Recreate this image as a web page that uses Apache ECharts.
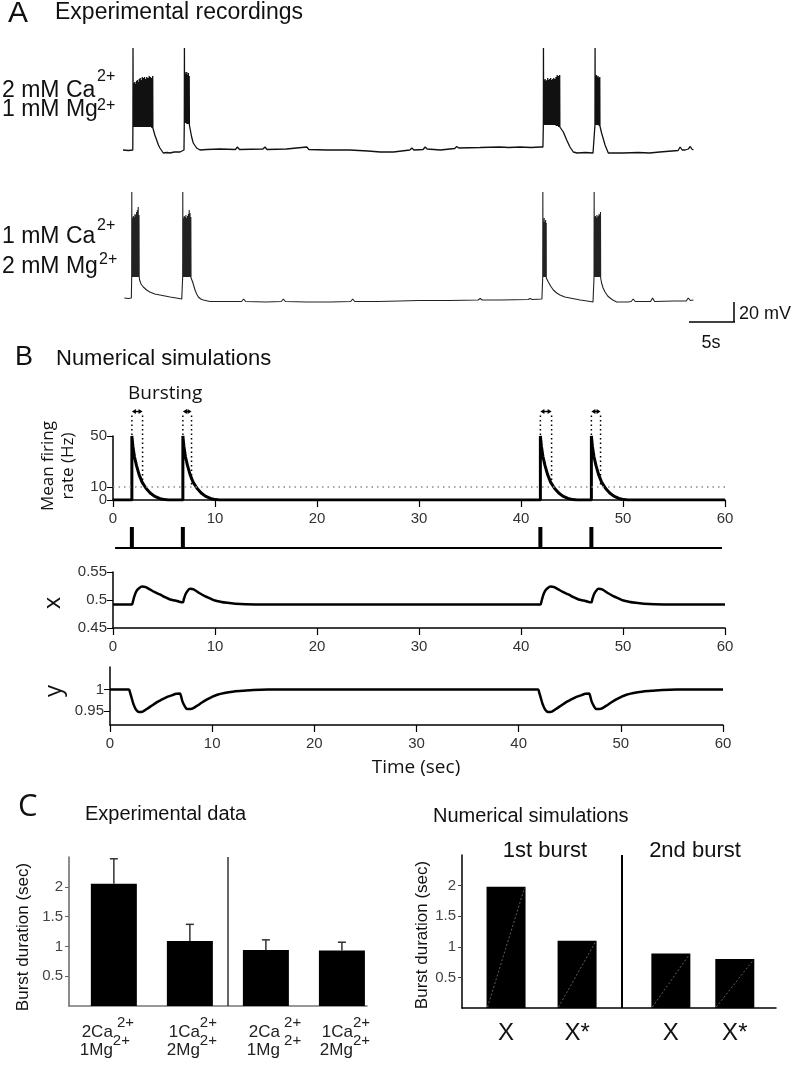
<!DOCTYPE html>
<html><head><meta charset="utf-8">
<script src="https://cdn.jsdelivr.net/npm/echarts@6/dist/echarts.min.js"></script>
<style>html,body{margin:0;padding:0;background:#fff}#c{width:796px;height:1065px}</style>
</head><body><div id="c"></div>
<script>
// ===== Panel A: experimental recordings (time in s, potential in mV) =====
// slow part of each trace [t, mV]
const recTopSlow = [[0.98,-70],[1.5,-70.5],[1.94,-70],[3.92,-48],[3.95,-50],[4.1,-55],[4.28,-60],[4.45,-65],[4.6,-68],[4.93,-73],[5.3,-72.5],[5.59,-73],[6.0,-72],[6.57,-72],[6.96,-70],
  [7.52,-45],[7.55,-47],[7.71,-57],[7.87,-63],[8.2,-68],[8.53,-70],[9.2,-69.5],[10.5,-69],[12.0,-69.5],[12.2,-67],[12.4,-69.5],[14.7,-69],[14.9,-67],[15.1,-69.5],[17,-69],[19.0,-67],[19.2,-69.5],[21,-70],[23.2,-70],[25,-71],[26.2,-72],[27.5,-72],[29.1,-70],[29.3,-68],[29.5,-70],[30.4,-69.5],[30.6,-67],[30.8,-69],[32.1,-70],[33.5,-68.5],[33.7,-66.5],[33.9,-68],[36,-67.5],[37.9,-67],[38.8,-67.5],[39.9,-67],[41.0,-67.5],[41.9,-67],[42.15,-67],
  [43.82,-47],[43.95,-49],[44.15,-52],[44.48,-60],[44.8,-67],[45.13,-72],[45.5,-73],[46.3,-72.5],[47.06,-73],[47.2,-72],
  [47.75,-46],[47.9,-53],[48.24,-65],[48.56,-73],[50,-73],[51.5,-72.5],[52.6,-73],[53.6,-72],[54.8,-71],[55.4,-70.5],[55.6,-67],[55.8,-70],[56.1,-70],[56.4,-69],[56.6,-66.5],[56.75,-69],[56.9,-70]];
// spikes [t, peak mV, trough mV]
const recTopSpikes = [[1.95,32,-47],[2.05,-3,-47],[2.13,-2,-47],[2.21,-4,-47],[2.3,-1,-47],[2.38,0,-47],[2.47,-2,-47],[2.56,1,-47],[2.66,2,-47],[2.76,0,-47],[2.86,3,-47],[2.97,2,-47],[3.08,3,-47],[3.19,1,-47],[3.3,3,-47],[3.42,2,-47],[3.54,4,-47],[3.66,3,-47],[3.78,2,-48],[3.88,4,-48],
  [6.99,32,-43],[7.06,8,-43],[7.14,6,-43],[7.22,8,-44],[7.30,5,-44],[7.38,7,-44],[7.46,4,-45],
  [42.19,32,-45],[42.27,0,-45],[42.35,1,-45],[42.43,-1,-45],[42.52,0,-45],[42.61,2,-45],[42.7,0,-45],[42.8,1,-45],[42.9,2,-45],[43.0,0,-45],[43.1,1,-45],[43.2,2,-45],[43.3,1,-45],[43.42,3,-46],[43.54,5,-46],[43.66,4,-47],[43.78,5,-47],
  [47.25,32,-45],[47.31,4,-45],[47.39,5,-45],[47.47,3,-45],[47.55,4,-45],[47.63,2,-46],[47.71,3,-46]];
const recBotSlow = [[1.11,-68],[1.5,-68.5],[1.8,-68],[2.58,-47],[2.61,-50],[2.75,-54],[2.97,-57],[3.3,-60],[3.6,-62],[4.1,-64],[4.6,-65],[5.1,-66],[5.6,-67],[6.2,-68],[6.74,-69],[6.8,-69],
  [7.72,-48],[7.81,-52],[8.04,-60],[8.2,-64],[8.37,-67],[8.6,-69],[8.86,-70],[9.5,-71.5],[10.5,-71.5],[12.6,-71.5],[12.8,-69],[13.0,-71.5],[15,-72],[16.5,-71.5],[16.7,-69],[16.9,-71.5],[19,-72],[21.3,-72],[23.3,-71.5],[23.5,-69],[23.7,-71.5],[26,-71.5],[28.1,-71],[30,-70.5],[33,-70.5],[35.8,-70],[36.0,-68.5],[36.2,-70],[38,-70],[40.7,-69.5],[40.9,-68.5],[41.1,-69.5],[42.05,-69],[42.1,-69],
  [42.48,-48],[42.68,-52],[42.9,-56],[43.17,-60],[43.5,-63],[43.82,-65],[44.3,-67],[44.8,-68],[45.8,-70],[46.5,-71],[47.06,-72],[47.12,-72],
  [47.81,-48],[47.9,-53],[48.05,-58],[48.24,-62],[48.5,-66],[48.73,-68],[49.0,-70],[49.38,-72],[50.5,-72],[50.8,-71.5],[51.0,-69],[51.2,-71.5],[52.7,-71.5],[52.9,-68],[53.1,-71.5],[55,-71],[56.2,-71],[56.4,-68],[56.6,-70.5],[56.9,-70]];
const recBotSpikes = [[1.83,38,-47],[1.9,12,-47],[1.98,14,-47],[2.06,13,-47],[2.14,16,-47],[2.22,15,-47],[2.3,18,-47],[2.38,20,-47],[2.46,23,-47],[2.54,15,-47],
  [6.83,38,-47],[6.9,12,-47],[6.98,14,-47],[7.06,13,-47],[7.14,15,-47],[7.22,12,-47],[7.3,14,-47],[7.38,16,-47],[7.46,20,-47],[7.54,17,-47],[7.62,13,-48],
  [42.13,38,-47],[42.19,8,-47],[42.26,12,-47],[42.33,8,-47],[42.4,10,-47],[42.46,7,-47],
  [47.16,38,-47],[47.22,13,-47],[47.29,14,-47],[47.36,12,-47],[47.43,15,-47],[47.5,13,-47],[47.57,14,-47],[47.64,16,-47],[47.71,15,-47],[47.78,18,-47]];

// ===== Panel B: numerical simulations =====
const burstOnsets = [1.85, 6.85, 41.9, 46.9];
// firing-rate decay after each onset: [seconds after onset, Hz]
const rateDecay = [[0,50],[0.1,42],[0.25,34],[0.45,27],[0.7,20],[1.0,14],[1.4,9],[1.8,5.5],[2.2,3],[2.7,1.2],[3.2,0.3],[3.6,0]];
const burstWindows = [[1.85,2.9],[6.85,7.7],[41.9,43.0],[46.9,47.8]];
const rateThreshold = 10;
const rateTicks = [0,10,50];
const rasterSpan = [[0.2,0],[59.7,0]];
const xVals = [[0,0.4918],[1.85,0.4918],[1.95,0.497],[2.1,0.507],[2.3,0.516],[2.55,0.521],[2.85,0.524],[3.2,0.523],[3.6,0.519],[4.1,0.514],[4.6,0.510],[5.1,0.505],[5.6,0.501],[6.1,0.499],[6.5,0.497],[6.85,0.496],[6.95,0.502],[7.1,0.510],[7.3,0.516],[7.55,0.520],[7.9,0.519],[8.5,0.512],[9.0,0.507],[9.5,0.503],[10.0,0.499],[10.5,0.497],[11.2,0.495],[12,0.4935],[13,0.4925],[15,0.492],
  [41.9,0.492],[42.0,0.497],[42.15,0.507],[42.35,0.516],[42.6,0.521],[42.9,0.524],[43.25,0.523],[43.65,0.519],[44.15,0.514],[44.65,0.510],[45.15,0.505],[45.65,0.501],[46.15,0.499],[46.55,0.497],[46.9,0.496],[47.0,0.502],[47.15,0.510],[47.35,0.516],[47.6,0.520],[47.95,0.519],[48.55,0.512],[49.05,0.507],[49.55,0.503],[50.05,0.499],[50.55,0.497],[51.25,0.495],[52.05,0.4935],[53.05,0.4925],[55,0.492],[60,0.492]];
const yVals = [[0,1],[1.85,1],[1.95,0.994],[2.1,0.982],[2.3,0.966],[2.55,0.953],[2.85,0.948],[3.2,0.949],[3.6,0.955],[4.1,0.963],[4.6,0.971],[5.1,0.977],[5.6,0.983],[6.1,0.987],[6.5,0.990],[6.85,0.991],[6.95,0.985],[7.1,0.972],[7.3,0.962],[7.55,0.955],[7.9,0.955],[8.5,0.962],[9.0,0.970],[9.5,0.977],[10,0.983],[10.5,0.988],[11.2,0.992],[12,0.995],[13,0.997],[14,0.999],[15.5,1.0],
  [41.9,1],[42.0,0.994],[42.15,0.982],[42.35,0.966],[42.6,0.953],[42.9,0.948],[43.25,0.949],[43.65,0.955],[44.15,0.963],[44.65,0.971],[45.15,0.977],[45.65,0.983],[46.15,0.987],[46.55,0.990],[46.9,0.991],[47.0,0.985],[47.15,0.972],[47.35,0.962],[47.6,0.955],[47.95,0.955],[48.55,0.962],[49.05,0.970],[49.55,0.977],[50.05,0.983],[50.55,0.988],[51.25,0.992],[52.05,0.995],[53.05,0.997],[54.05,0.999],[55.5,1.0],[60,1.0]];
const yTicks = [0.95, 1];

// ===== Panel C: burst durations (s) =====
const expIons = [['2Ca',' 2+','1Mg','2+'],['1Ca','2+','2Mg','2+'],['2Ca',' 2+','1Mg',' 2+'],['1Ca','2+','2Mg','2+']];
const expMeans = [2.05, 1.09, 0.94, 0.93];
const expErr = [0.42, 0.28, 0.17, 0.14];
const simCats = ['X','X*','X','X*'];
const simMeans = [1.98, 1.10, 0.89, 0.80];
const durTicks = [0.5, 1, 1.5, 2];

// ---- layout constants (not data) ----
const expSlots = [0,1,2,3];
const expLabelShift = [-1, 10, 14, 11];
const simSlots = [0,1,2.32,3.22];
const SIM_BAR_W = 39, EXP_BAR_W = 46, ARROW_HZ = 66;
const ARIAL = '"Liberation Sans", Arial, sans-serif';
const OPEN = '"Open Sans", "Noto Sans", sans-serif';

function buildTrace(slow, spikes){
  const pts = slow.map(p => [p[0], p[1]]);
  spikes.forEach(s => { pts.push([s[0], s[2]]); pts.push([s[0]+0.012, s[1]]); pts.push([s[0]+0.03, s[2]]); });
  pts.sort((a,b) => a[0]-b[0]);
  return pts;
}
function buildRate(){
  const pts = [[0,0]];
  burstOnsets.forEach(t0 => { pts.push([t0,0]); rateDecay.forEach(d => pts.push([t0+d[0], d[1]])); });
  pts.push([60,0]);
  return pts;
}

const chart = echarts.init(document.getElementById('c'), null, {renderer:'canvas', width:796, height:1065});
const tickLab = {fontFamily: ARIAL, fontSize: 15, color: '#333'};
const blackLine = {color:'#000', width:1.5};
function g(left, top, width, height){ return {left, top, width, height, containLabel:false, outerBoundsMode:'none'}; }
function timeAxis(gi, show){
  return {gridIndex:gi, type:'value', min:0, max:60, interval:10, splitLine:{show:false},
    axisLine:{show:show, onZero:false, lineStyle:blackLine}, axisTick:{show:show, length:7, lineStyle:{color:'#000', width:1.2}},
    axisLabel:Object.assign({show:show, margin:11, showMinLabel:true, showMaxLabel:true}, tickLab)};
}
function hiddenY(gi, min, max){ return {gridIndex:gi, type:'value', min, max, show:false, splitLine:{show:false}}; }
function T(text, x, y, size, o){
  o = o || {};
  const st = {text, font: (o.weight||'normal') + ' ' + size + 'px ' + (o.family||ARIAL), fill: o.color||'#111',
    textAlign: o.align||'left', textVerticalAlign: 'middle'};
  if (o.lh) st.lineHeight = o.lh;
  return {type:'text', x, y, rotation: o.rot||0, style: st, silent:true};
}
function L(x1,y1,x2,y2){ return {type:'line', shape:{x1,y1,x2,y2}, style:{stroke:'#000', lineWidth:1.5}, silent:true}; }
function txt(text, x, y, size, align){ return {type:'text', x, y, style:{text, font: size+'px '+ARIAL, fill:'#222', textAlign:align, textVerticalAlign:'middle'}}; }

const option = {
  animation:false,
  backgroundColor:'#fff',
  textStyle:{fontFamily: ARIAL},
  grid:[g(113,40,612,120), g(113,180,612,130), g(113,436,612,64), g(113,527,612,21), g(113,572,612,56), g(110,667,613,58), g(69,857,298,149), g(462,855,314,153)],
  xAxis:[timeAxis(0,false), timeAxis(1,false), timeAxis(2,true), timeAxis(3,false), timeAxis(4,true), timeAxis(5,true),
    {gridIndex:6, type:'value', min:-0.59, max:3.33, splitLine:{show:false}, axisLine:{onZero:false, lineStyle:{color:'#777', width:1.5}}, axisTick:{show:false}, axisLabel:{show:false}},
    {gridIndex:7, type:'value', min:-0.62, max:3.80, splitLine:{show:false}, axisLine:{onZero:false, lineStyle:{color:'#000', width:1.5}}, axisTick:{show:false},
      axisLabel:{customValues: simSlots, margin:13, fontSize:24, fontFamily:ARIAL, color:'#111', formatter: v => simCats[simSlots.indexOf(v)]}}
  ],
  yAxis:[hiddenY(0,-80,40), hiddenY(1,-80,50),
    {gridIndex:2, type:'value', position:'left', min:0, max:50, splitLine:{show:false}, axisLine:{show:true, onZero:false, lineStyle:blackLine},
      axisTick:{show:true, customValues: rateTicks.slice(1), length:6, lineStyle:{color:'#000'}}, axisLabel:Object.assign({customValues: rateTicks.slice(1), margin:6}, tickLab)},
    hiddenY(3,0,1),
    {gridIndex:4, type:'value', min:0.45, max:0.55, interval:0.05, splitLine:{show:false}, axisLine:{show:true, onZero:false, lineStyle:blackLine},
      axisTick:{show:true, length:6, lineStyle:{color:'#000'}}, axisLabel:Object.assign({margin:6, showMinLabel:true, showMaxLabel:true}, tickLab)},
    {gridIndex:5, type:'value', min:0.918, max:1.052, splitLine:{show:false}, axisLine:{show:true, onZero:false, lineStyle:blackLine},
      axisTick:{show:true, customValues: yTicks, length:6, lineStyle:{color:'#000'}}, axisLabel:Object.assign({customValues: yTicks, margin:6}, tickLab)},
    {gridIndex:6, type:'value', min:0, max:2.5, splitLine:{show:false}, axisLine:{show:true, onZero:false, lineStyle:{color:'#666', width:1.5}},
      axisTick:{show:true, customValues: durTicks, length:4, lineStyle:{color:'#666'}}, axisLabel:{customValues: durTicks, margin:6, fontSize:15, fontFamily:ARIAL, color:'#444'}},
    {gridIndex:7, type:'value', min:0, max:2.5, splitLine:{show:false}, axisLine:{show:true, onZero:false, lineStyle:{color:'#000', width:1.5}},
      axisTick:{show:true, customValues: durTicks, length:4, lineStyle:{color:'#444'}}, axisLabel:{customValues: durTicks, margin:6, fontSize:15, fontFamily:ARIAL, color:'#444'}},
    {gridIndex:2, type:'value', position:'left', offset:0, min:0, max:50, splitLine:{show:false}, axisLine:{show:false, onZero:false},
      axisTick:{show:true, customValues: rateTicks.slice(0,1), length:6, lineStyle:{color:'#000'}}, axisLabel:Object.assign({customValues: rateTicks.slice(0,1), margin:6, showMinLabel:true}, tickLab)}
  ],
  series:[
    {name:'2 mM Ca / 1 mM Mg', type:'line', xAxisIndex:0, yAxisIndex:0, data: buildTrace(recTopSlow, recTopSpikes), showSymbol:false, symbol:'none', lineStyle:{color:'#111', width:1.3}},
    {name:'1 mM Ca / 2 mM Mg', type:'line', xAxisIndex:1, yAxisIndex:1, data: buildTrace(recBotSlow, recBotSpikes), showSymbol:false, symbol:'none', lineStyle:{color:'#222', width:1.1}},
    {name:'Mean firing rate', type:'line', xAxisIndex:2, yAxisIndex:2, data: buildRate(), showSymbol:false, symbol:'none', lineStyle:{color:'#000', width:3}, z:3,
      markLine:{silent:true, symbol:'none', label:{show:false}, lineStyle:{color:'#8a8a8a', width:1.5, type:[1.5,4]}, data:[{yAxis: rateThreshold}]}},
    {name:'bursting', type:'custom', coordinateSystem:'cartesian2d', xAxisIndex:2, yAxisIndex:2, clip:false, silent:true, z:5, data: burstWindows,
      renderItem(params, api){
        const t0 = api.value(0), t1 = api.value(1);
        const a = api.coord([t0, ARROW_HZ]), a50 = api.coord([t0, 50]);
        const b = api.coord([t1, ARROW_HZ]), b10 = api.coord([t1, rateThreshold]);
        const ya = a[1] - 4;
        const dot = {stroke:'#000', lineWidth:1.5, lineDash:[1.5,3]};
        return {type:'group', children:[
          {type:'line', shape:{x1:a[0], y1:a[1], x2:a50[0], y2:a50[1]}, style:dot},
          {type:'line', shape:{x1:b[0], y1:b[1], x2:b10[0], y2:b10[1]}, style:dot},
          {type:'line', shape:{x1:a[0]+2, y1:ya, x2:b[0]-2, y2:ya}, style:{stroke:'#000', lineWidth:1.5}},
          {type:'polygon', shape:{points:[[a[0],ya],[a[0]+4,ya-2.5],[a[0]+4,ya+2.5]]}, style:{fill:'#000'}},
          {type:'polygon', shape:{points:[[b[0],ya],[b[0]-4,ya-2.5],[b[0]-4,ya+2.5]]}, style:{fill:'#000'}}
        ]};
      }},
    {name:'raster baseline', type:'line', xAxisIndex:3, yAxisIndex:3, data: rasterSpan, symbol:'none', lineStyle:{color:'#000', width:2.2}},
    {name:'raster', type:'bar', xAxisIndex:3, yAxisIndex:3, data: burstOnsets.map(t => [t, 1]), barWidth:4, itemStyle:{color:'#000'}},
    {name:'x', type:'line', xAxisIndex:4, yAxisIndex:4, data: xVals, symbol:'none', smooth:0.3, lineStyle:{color:'#000', width:2.5}},
    {name:'y', type:'line', xAxisIndex:5, yAxisIndex:5, data: yVals, symbol:'none', smooth:0.3, lineStyle:{color:'#000', width:2.5}},
    {name:'Experimental data', type:'bar', xAxisIndex:6, yAxisIndex:6, data: expMeans.map((v,i) => [expSlots[i], v]), barWidth:EXP_BAR_W, itemStyle:{color:'#000'},
      markLine:{silent:true, symbol:'none', label:{show:false}, lineStyle:{color:'#333', width:1.5, type:'solid'}, data:[{xAxis:1.5}]}},
    {name:'error', type:'custom', coordinateSystem:'cartesian2d', xAxisIndex:6, yAxisIndex:6, clip:false, silent:true, z:3, data: expMeans.map((v,i) => [expSlots[i], v, expErr[i]]),
      renderItem(params, api){
        const i = api.value(0), v = api.value(1), e = api.value(2);
        const p0 = api.coord([i, v]), p1 = api.coord([i, v+e]);
        const st = {stroke:'#333', lineWidth:1.5};
        return {type:'group', children:[
          {type:'line', shape:{x1:p0[0], y1:p0[1], x2:p1[0], y2:p1[1]}, style:st},
          {type:'line', shape:{x1:p1[0]-4, y1:p1[1], x2:p1[0]+4, y2:p1[1]}, style:st}]};
      }},
    {name:'category labels', type:'custom', coordinateSystem:'cartesian2d', xAxisIndex:6, yAxisIndex:6, clip:false, silent:true, data: expSlots.map(i => [i, 0]),
      renderItem(params, api){
        const p = api.coord([api.value(0), 0]);
        const k = params.dataIndex, parts = expIons[k], x = p[0] + expLabelShift[k];
        return {type:'group', children:[
          txt(parts[0], x, p[1]+26, 17, 'right'), txt(parts[1], x, p[1]+17, 15, 'left'),
          txt(parts[2], x, p[1]+44, 17, 'right'), txt(parts[3], x, p[1]+35, 15, 'left')]};
      }},
    {name:'Numerical simulations', type:'bar', xAxisIndex:7, yAxisIndex:7, data: simMeans.map((v,i) => [simSlots[i], v]), barWidth:SIM_BAR_W, itemStyle:{color:'#000'},
      markLine:{silent:true, symbol:'none', label:{show:false}, lineStyle:{color:'#000', width:2, type:'solid'}, data:[{xAxis:1.634}]}},
    {name:'diag', type:'custom', coordinateSystem:'cartesian2d', xAxisIndex:7, yAxisIndex:7, clip:false, silent:true, z:3, data: simMeans.map((v,i) => [simSlots[i], v]),
      renderItem(params, api){
        const s = api.value(0), v = api.value(1);
        const p0 = api.coord([s, 0]), p1 = api.coord([s, v]);
        const hw = SIM_BAR_W/2 - 1;
        return {type:'line', shape:{x1:p0[0]-hw, y1:p0[1]-1, x2:p1[0]+hw, y2:p1[1]+1}, style:{stroke:'#777', lineWidth:0.8, lineDash:[2,2]}};
      }}
  ],
  graphic:[
    T('A', 8, 14, 30), T('Experimental recordings', 55, 13, 23),
    T('2 mM Ca', 2, 91, 23), T('2+', 97, 77, 16), T('1 mM Mg', 2, 110, 23), T('2+', 97, 106, 16),
    T('1 mM Ca', 2, 237, 23), T('2+', 97, 226, 16), T('2 mM Mg', 2, 267, 23), T('2+', 99, 260, 16),
    L(734,302,734,322), L(689,322,735,322),
    T('20 mV', 739, 314, 18), T('5s', 711, 343, 18, {align:'center'}),
    T('B', 15, 358, 27), T('Numerical simulations', 56, 359, 22),
    T('Bursting', 128, 394, 19, {family:OPEN}),
    T('Mean firing\nrate (Hz)', 58, 466, 17, {family:OPEN, rot:Math.PI/2, align:'center', lh:20}),
    T('x', 53, 603, 24, {family:OPEN, rot:Math.PI/2, align:'center'}),
    T('y', 54, 691, 24, {family:OPEN, rot:Math.PI/2, align:'center'}),
    T('Time (sec)', 416, 768, 19, {family:OPEN, align:'center'}),
    T('C', 18, 807, 31, {family:OPEN}), T('Experimental data', 85, 814, 20),
    T('Numerical simulations', 433, 816, 20),
    T('1st burst', 545, 851, 22, {align:'center'}), T('2nd burst', 695, 851, 22, {align:'center'}),
    T('Burst duration (sec)', 23, 937, 17, {rot:Math.PI/2, align:'center'}),
    T('Burst duration (sec)', 422, 935, 17, {rot:Math.PI/2, align:'center'})
  ]
};
chart.setOption(option);
</script></body></html>
